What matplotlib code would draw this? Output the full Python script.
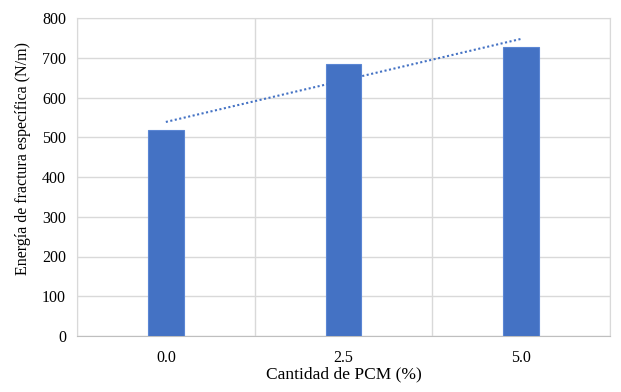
import matplotlib
matplotlib.use("Agg")
import matplotlib.pyplot as plt
import numpy as np

categories = ["0.0", "2.5", "5.0"]
values = [518, 684, 727]
yticks = [0, 100, 200, 300, 400, 500, 600, 700, 800]

plt.rcParams['font.family'] = ['Liberation Serif', 'DejaVu Serif']

fig = plt.figure(figsize=(6.21, 3.92), dpi=100)
ax = fig.add_axes([77/621, 1-336/392, (610-77)/621, (336-18)/392])

x = np.arange(len(categories))
ax.bar(x, values, width=0.2, color="#4472C4", edgecolor="#5b86d4", linewidth=0.8, zorder=3)

coef = np.polyfit(x, values, 1)
ax.plot(x[[0, -1]], np.polyval(coef, x[[0, -1]]), linestyle=(0, (1, 1.2)), color="#4472C4", linewidth=1.5, zorder=4)

ax.set_xlim(-0.5, len(categories) - 0.5)
ax.set_ylim(0, 800)
ax.set_yticks(yticks)
ax.set_xticks(x)
ax.set_xticklabels(categories)
ax.set_xticks(np.arange(len(categories) + 1) - 0.5, minor=True)
ax.grid(axis='y', which='major', color="#d9d9d9", linewidth=1, zorder=0)
ax.grid(axis='x', which='minor', color="#d9d9d9", linewidth=1, zorder=0)
ax.tick_params(axis='both', which='both', length=0, labelsize=11.5, colors="#000000")
ax.tick_params(axis='x', pad=10)
ax.tick_params(axis='y', pad=8)
for s in ['left', 'right', 'top']:
    ax.spines[s].set_color("#d9d9d9")
ax.spines['bottom'].set_color("#bfbfbf")
ax.set_xlabel("Cantidad de PCM (%)", fontsize=12.5)
ax.set_ylabel("Energía de fractura específica (N/m)", fontsize=11.5)
ax.yaxis.set_label_coords(-0.087, 0.558)
ax.xaxis.set_label_coords(0.5, -0.095)

fig.savefig("out.png", dpi=100)
